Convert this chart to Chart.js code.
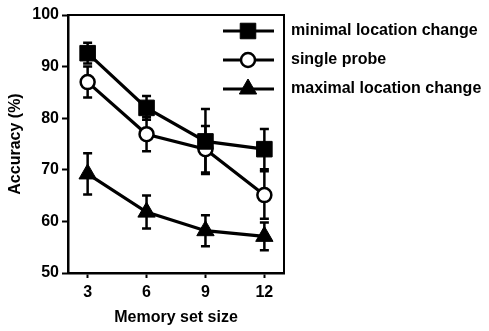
<!DOCTYPE html>
<html>
<head>
<meta charset="utf-8">
<script src="https://cdn.jsdelivr.net/npm/chart.js@4.4.1/dist/chart.umd.min.js"></script>
<style>
  html, body { margin: 0; padding: 0; background: #fff; }
  #wrap { width: 489px; height: 331px; position: relative; }
</style>
</head>
<body>
<div id="wrap"><canvas id="c" width="489" height="331"></canvas></div>
<script>
// ---- data ----
const setSizes = [3, 6, 9, 12];
const seriesNames = ["minimal location change", "single probe", "maximal location change"];
const minimalMean = [92.6, 82.0, 75.5, 74.0];
const minimalErr  = [2.0, 2.3, 6.3, 3.9];
const singleMean  = [87.0, 76.9, 74.0, 65.1];
const singleErr   = [3.0, 3.3, 4.5, 4.6];
const maximalMean = [69.2, 61.8, 58.2, 57.1];
const maximalErr  = [4.0, 3.2, 3.0, 2.7];
const yTicks = [50, 60, 70, 80, 90, 100];

const FONT = "'Liberation Sans', Arial, Helvetica, sans-serif";

function pts(xs, ys) { return xs.map((x, i) => ({ x: x, y: ys[i] })); }

const datasets = [
  { label: seriesNames[0], data: pts(setSizes, minimalMean), err: minimalErr,
    pointStyle: 'rect', pointRadius: 11, pointBackgroundColor: '#000', pointBorderColor: '#000', pointBorderWidth: 1 },
  { label: seriesNames[1], data: pts(setSizes, singleMean), err: singleErr,
    pointStyle: 'circle', pointRadius: 7, pointBackgroundColor: '#fff', pointBorderColor: '#000', pointBorderWidth: 2.5 },
  { label: seriesNames[2], data: pts(setSizes, maximalMean), err: maximalErr,
    pointStyle: 'triangle', pointRadius: 10, pointBackgroundColor: '#000', pointBorderColor: '#000', pointBorderWidth: 1 }
].map(d => Object.assign({ borderColor: '#000', borderWidth: 3.2, showLine: true, tension: 0, fill: false }, d));

const errorBars = {
  id: 'errorBars',
  beforeDatasetsDraw(chart) {
    const { ctx, scales: { x, y } } = chart;
    ctx.save();
    ctx.strokeStyle = '#000';
    ctx.lineWidth = 2.5;
    chart.data.datasets.forEach(ds => {
      ds.data.forEach((p, i) => {
        const e = ds.err[i];
        const px = x.getPixelForValue(p.x);
        const top = y.getPixelForValue(p.y + e);
        const bot = y.getPixelForValue(p.y - e);
        ctx.beginPath();
        ctx.moveTo(px, top); ctx.lineTo(px, bot);
        ctx.moveTo(px - 4.5, top); ctx.lineTo(px + 4.5, top);
        ctx.moveTo(px - 4.5, bot); ctx.lineTo(px + 4.5, bot);
        ctx.stroke();
      });
    });
    ctx.restore();
  }
};

const frameAndLegend = {
  id: 'frameAndLegend',
  afterDraw(chart) {
    const { ctx, chartArea: a } = chart;
    ctx.save();
    ctx.strokeStyle = '#000';
    ctx.lineWidth = 2;
    ctx.beginPath();
    ctx.moveTo(a.left, a.top); ctx.lineTo(a.right, a.top); ctx.lineTo(a.right, a.bottom);
    ctx.stroke();
    const rows = [31, 60, 89];
    chart.data.datasets.forEach((ds, i) => {
      const yy = rows[i];
      ctx.strokeStyle = '#000';
      ctx.lineWidth = 3.2;
      ctx.beginPath(); ctx.moveTo(223, yy); ctx.lineTo(274, yy); ctx.stroke();
      ctx.fillStyle = ds.pointBackgroundColor;
      ctx.strokeStyle = ds.pointBorderColor;
      ctx.lineWidth = ds.pointBorderWidth;
      Chart.helpers.drawPoint(ctx, { pointStyle: ds.pointStyle, radius: ds.pointRadius, borderWidth: ds.pointBorderWidth, rotation: 0 }, 248, yy);
      ctx.fillStyle = '#000';
      ctx.font = "bold 16px " + FONT;
      ctx.textAlign = 'left';
      ctx.textBaseline = 'middle';
      ctx.fillText(ds.label, 291, yy);
    });
    ctx.restore();
  }
};

new Chart(document.getElementById('c'), {
  type: 'scatter',
  data: { datasets: datasets },
  options: {
    responsive: false,
    animation: false,
    events: [],
    layout: { padding: { left: 0, top: 15, right: 205, bottom: 0 } },
    plugins: { legend: { display: false }, tooltip: { enabled: false } },
    scales: {
      x: {
        type: 'linear', min: 2, max: 13,
        afterBuildTicks: s => { s.ticks = setSizes.map(v => ({ value: v })); },
        afterFit: s => { s.height = 58; },
        grid: { display: true, drawOnChartArea: false, drawTicks: true, tickLength: 5, tickWidth: 2, tickColor: '#000' },
        border: { display: true, color: '#000', width: 2.5 },
        ticks: { color: '#000', font: { family: FONT, size: 16, weight: 'bold' }, padding: 5, maxRotation: 0 },
        title: { display: true, text: 'Memory set size', color: '#000', font: { family: FONT, size: 16, weight: 'bold' }, padding: { top: 0, bottom: 4 } }
      },
      y: {
        type: 'linear', min: 50, max: 100,
        afterBuildTicks: s => { s.ticks = yTicks.map(v => ({ value: v })); },
        afterFit: s => { s.width = 68; },
        grid: { display: true, drawOnChartArea: false, drawTicks: true, tickLength: 6, tickWidth: 2, tickColor: '#000' },
        border: { display: true, color: '#000', width: 2.5 },
        ticks: { color: '#000', font: { family: FONT, size: 16, weight: 'bold' }, padding: 3 },
        title: { display: true, text: 'Accuracy (%)', color: '#000', font: { family: FONT, size: 16, weight: 'bold' }, padding: { top: 6, bottom: 0 } }
      }
    }
  },
  plugins: [errorBars, frameAndLegend]
});
</script>
</body>
</html>
